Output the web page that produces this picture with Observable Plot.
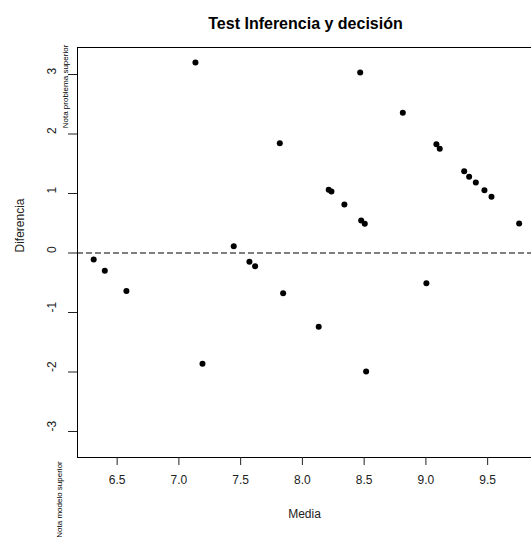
<!DOCTYPE html>
<html>
<head>
<meta charset="utf-8">
<script src="https://cdn.jsdelivr.net/npm/d3@7"></script>
<script src="https://cdn.jsdelivr.net/npm/@observablehq/plot@0.6"></script>
<style>
  body { margin: 0; background: #fff; }
  svg { font-family: Arial, "Liberation Sans", sans-serif; }
</style>
</head>
<body>
<div id="chart"></div>
<script>
const media = [6.31, 6.40, 6.575, 7.134, 7.191, 7.444, 7.571, 7.617, 7.817, 7.844,
  8.132, 8.213, 8.235, 8.34, 8.468, 8.476, 8.505, 8.516, 8.813, 9.004,
  9.085, 9.112, 9.31, 9.35, 9.404, 9.474, 9.531, 9.755];
const diferencia = [-0.11, -0.30, -0.64, 3.20, -1.86, 0.114, -0.148, -0.222, 1.845, -0.676,
  -1.24, 1.062, 1.034, 0.815, 3.034, 0.546, 0.491, -1.99, 2.356, -0.508,
  1.829, 1.751, 1.375, 1.281, 1.185, 1.055, 0.945, 0.496];
const xTicks = [6.5, 7.0, 7.5, 8.0, 8.5, 9.0, 9.5];
const yTicks = [-3, -2, -1, 0, 1, 2, 3];
const xDomain = [6.179, 9.855];
const yDomain = [-3.437, 3.454];
const title = "Test Inferencia y decisión";
const xLabel = "Media";
const yLabel = "Diferencia";
const topNote = "Nota problema superior";
const bottomNote = "Nota modelo superior";

const data = media.map((m, i) => ({media: m, dif: diferencia[i]}));
const ink = "#222";

const chart = Plot.plot({
  width: 531,
  height: 546,
  marginLeft: 77,
  marginRight: 0,
  marginTop: 47,
  marginBottom: 89,
  style: {fontFamily: "Arial, 'Liberation Sans', sans-serif", background: "#fff", overflow: "visible"},
  x: {type: "linear", domain: xDomain, axis: null},
  y: {type: "linear", domain: yDomain, axis: null},
  marks: [
    // box (top, bottom, left)
    Plot.ruleY([yDomain[1], yDomain[0]], {stroke: "#000", strokeWidth: 1}),
    Plot.ruleX([xDomain[0]], {stroke: "#000", strokeWidth: 1}),
    // x axis ticks and labels
    Plot.axisX({ticks: xTicks, tickSize: 8, tickFormat: d => d.toFixed(1), tickPadding: 10, fontSize: 12, color: ink, stroke: "#222", label: null, anchor: "bottom"}),
    // y axis ticks and rotated labels
    Plot.axisY({ticks: yTicks, tickSize: 9, tickFormat: () => "", label: null, anchor: "left", stroke: "#222"}),
    Plot.text(yTicks, {y: d => d, text: d => String(d), frameAnchor: "left", dx: -25, rotate: -90, fontSize: 12, fill: ink}),
    // reference line
    Plot.ruleY([0], {stroke: "#000", strokeDasharray: "6,3", strokeWidth: 1.2}),
    // points
    Plot.dot(data, {x: "media", y: "dif", r: 3, fill: "#000", stroke: "none"}),
    // titles and notes
    Plot.text([title], {frameAnchor: "top-left", textAnchor: "middle", dx: 228, dy: -30, fontSize: 16, fontWeight: "bold", fill: "#000"}),
    Plot.text([xLabel], {frameAnchor: "bottom", dy: 60, fontSize: 12, fill: ink}),
    Plot.text([yLabel], {frameAnchor: "left", dx: -57, rotate: -90, fontSize: 12, fill: ink}),
    Plot.text([topNote], {frameAnchor: "top-left", textAnchor: "middle", dx: -15, dy: 39, rotate: -90, fontSize: 8, fill: "#000"}),
    Plot.text([bottomNote], {frameAnchor: "bottom-left", textAnchor: "middle", dx: -16, dy: 42, rotate: -90, fontSize: 8, fill: "#000"})
  ]
});
document.getElementById("chart").appendChild(chart);
</script>
</body>
</html>
